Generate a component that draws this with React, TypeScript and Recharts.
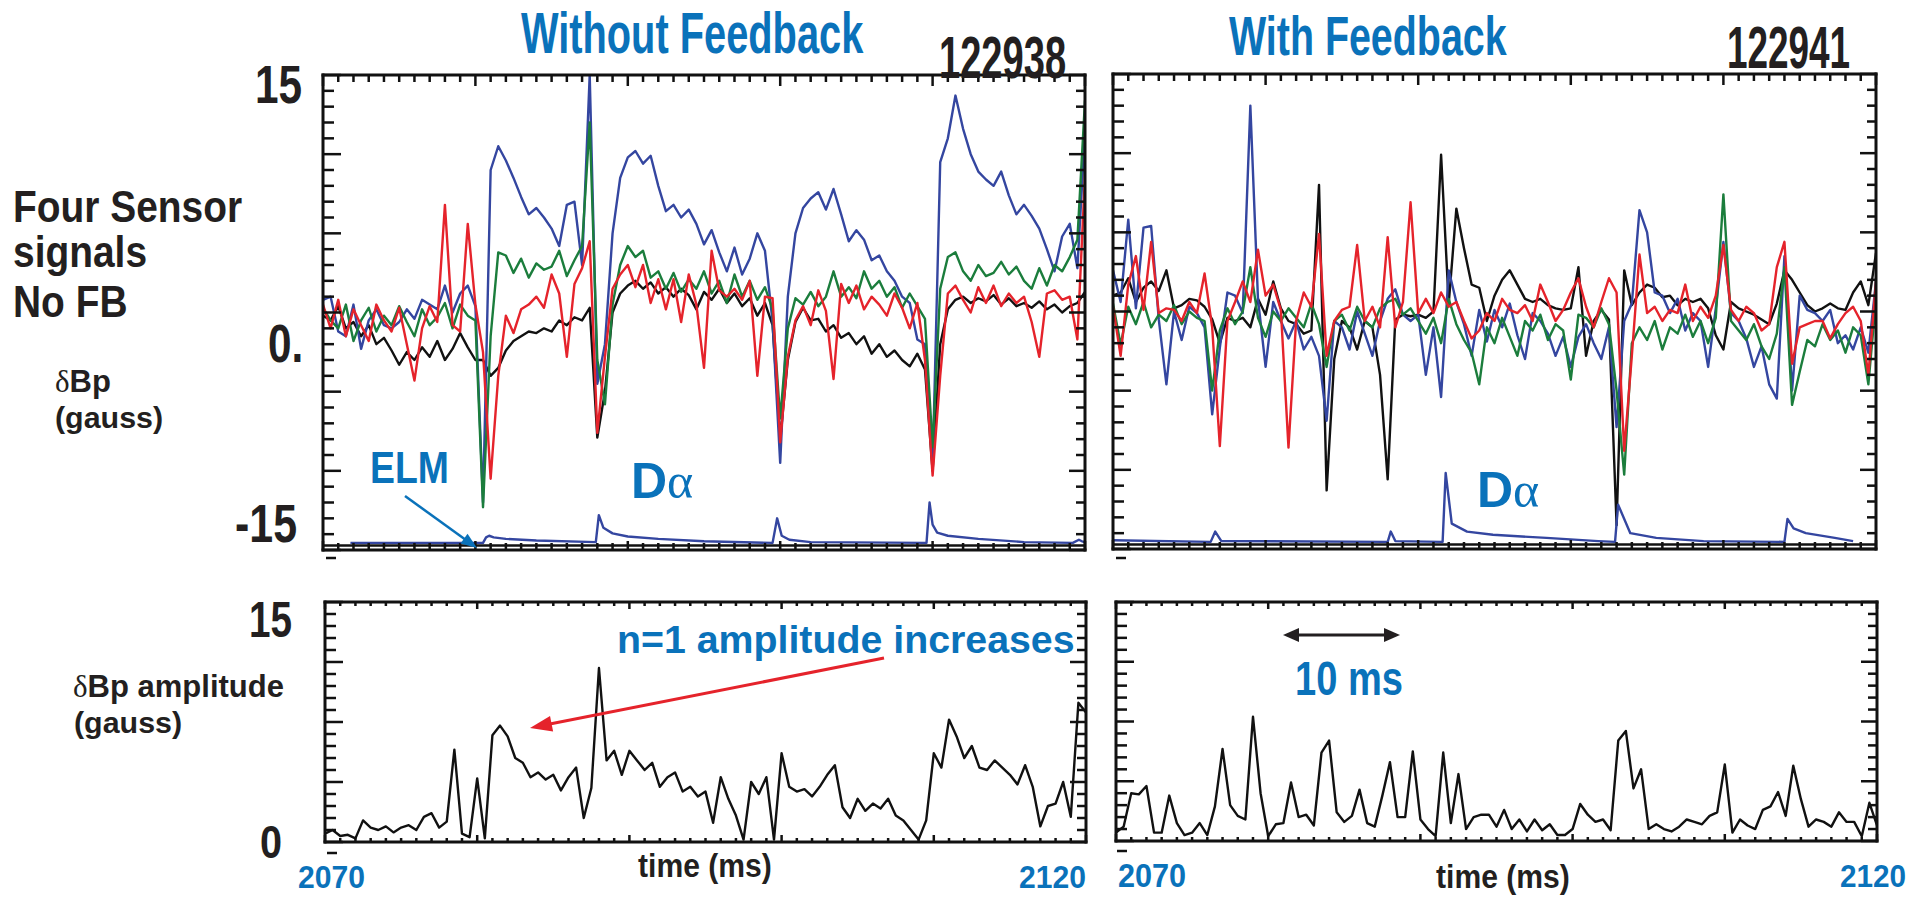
import React from 'react';
import { LineChart, Line, XAxis, YAxis, ReferenceLine } from 'recharts';

// ---------- colours ----------
const TXT_BLUE = '#0a72ba';
const INK = '#231f20';
const C_BLACK = '#111111';
const C_GREEN = '#1b7d3c';
const C_RED = '#e5232b';
const C_BLUE = '#3446a0';
const FONT = '"Liberation Sans", Arial, Helvetica, sans-serif';
const SERIF = '"Liberation Serif", "DejaVu Serif", serif';

// ---------- sampling grid (time, ms) ----------
const T0 = 2070;
const DT = 0.5;

// ---------- tick labels ----------
const topYLabels = ['15', '0.', '-15'];
const botYLabels = ['15', '0'];
const timeLabels = ['2070', '2120'];

// ---------- top-left: four sensor signals, no feedback (gauss) ----------
const blackL = [-0.2,-0.5,0.4,-1.0,-0.6,-1.5,-0.8,-2.0,-1.6,-2.4,
 -3.3,-2.5,-3.0,-2.2,-2.8,-1.8,-3.0,-2.3,-1.3,-2.2,
 -3.0,-3.0,-4.0,-3.5,-2.4,-1.8,-1.5,-1.2,-1.3,-1.0,
 -1.2,-0.5,-0.8,-0.3,-0.5,0.3,-7.9,-5.0,0.0,1.2,
 1.7,2.0,1.5,1.9,1.2,1.6,1.0,1.5,1.1,0.2,
 1.3,0.8,1.5,0.6,1.2,0.4,0.9,-0.2,0.6,-0.8,
 -8.0,-3.0,-0.6,0.3,-0.5,-0.4,-1.2,-0.8,-1.6,-1.3,
 -2.0,-1.5,-2.6,-2.0,-2.8,-2.4,-3.0,-3.4,-2.6,-3.6,
 -10.0,-2.0,0.2,0.8,1.0,0.6,0.9,0.7,1.1,0.5,
 0.9,0.4,0.6,0.3,0.7,0.2,0.5,0.0,0.4,0.6,
 1.3];
const greenL = [0.3,-0.5,-1.0,0.5,-1.8,-0.5,0.3,-1.2,-0.2,-0.8,
 0.4,-0.6,-1.5,0.2,-0.8,-0.3,0.6,-1.0,0.5,-0.2,
 -0.5,-12.3,-1.5,3.8,3.6,2.5,3.4,2.2,3.1,2.7,
 2.9,3.9,2.3,3.3,4.2,12.0,-3.0,-5.8,0.5,3.0,
 4.2,3.5,3.9,2.2,2.6,1.5,2.5,1.3,2.1,1.5,
 2.6,1.2,2.0,0.6,2.4,1.0,2.0,0.8,1.6,0.2,
 -6.7,-1.0,0.9,0.5,1.3,0.4,1.0,2.6,1.0,1.6,
 0.9,2.6,1.5,2.0,1.0,1.6,0.3,1.2,0.4,-0.4,
 -8.5,1.5,3.5,3.8,2.6,2.0,3.0,2.3,2.5,3.2,
 2.4,2.9,2.0,1.5,2.8,1.7,3.0,2.6,3.5,4.6,
 13.4];
const redL = [0.5,-1.0,0.8,-1.5,0.2,-0.8,-1.8,0.5,-0.5,-1.2,
 0.3,-2.0,-4.3,-1.0,0.4,-0.6,6.8,-0.8,-1.2,5.6,
 0.5,-2.5,-10.5,-4.0,-0.2,-1.3,0.2,0.5,1.0,0.3,
 2.4,1.2,-2.8,1.8,2.8,4.5,-7.6,-2.8,1.5,2.4,
 3.0,1.6,3.0,0.6,2.1,0.2,2.1,-0.6,2.4,0.5,
 -3.5,3.9,1.4,1.0,1.5,0.8,2.0,-4.0,1.0,0.9,
 -8.2,-2.8,-0.5,0.4,-0.8,1.4,0.1,-4.2,1.8,0.6,
 1.7,0.2,1.0,0.5,-0.2,1.2,0.3,-1.0,0.6,-3.0,
 -10.3,-4.0,1.2,1.7,0.8,0.0,1.6,0.6,1.7,0.4,
 1.2,0.6,1.0,-0.6,-2.8,1.2,1.4,0.8,1.0,-1.7,
 8.7];
const blueL = [0.8,1.0,-1.2,-1.5,0.5,-2.3,-0.5,0.2,-0.8,-1.0,
 -0.6,0.2,-0.4,0.8,0.5,0.2,1.7,0.0,1.2,1.7,
 0.4,-12.0,9.0,10.5,9.6,8.5,7.3,6.2,6.6,6.0,
 5.3,4.2,6.8,7.0,3.0,15.0,-4.5,-2.0,5.0,8.5,
 9.8,10.2,9.4,9.9,8.0,6.4,6.8,6.0,6.5,5.6,
 4.3,5.2,3.8,2.6,4.1,2.4,3.4,5.0,3.9,-0.6,
 -9.5,1.0,5.0,6.6,7.2,7.6,6.5,7.8,6.2,4.5,
 5.2,4.6,3.3,3.6,2.6,2.0,1.0,0.6,-1.7,-2.0,
 -9.8,9.5,11.0,13.7,11.6,10.0,8.9,8.4,8.0,8.9,
 7.4,6.2,6.8,6.1,5.3,4.0,2.6,4.8,5.6,2.8,
 11.4];

// D-alpha trace (left), own time points
const daTimeL = [2071.8,2080.5,2080.7,2080.9,2081.2,2082,2084,2087.9,2088.1,2088.4,2089,2090,2092,2095,2099.5,2099.8,2100.1,2100.6,2102,2109.6,2109.8,2110.0,2110.3,2111,2113,2116,2119.2,2119.6,2119.8,2120];
const daValL = [-14.55,-14.55,-14.2,-14.1,-14.2,-14.3,-14.4,-14.5,-12.8,-13.6,-13.95,-14.15,-14.3,-14.45,-14.55,-13.0,-14.1,-14.35,-14.5,-14.55,-12.0,-13.4,-13.9,-14.1,-14.3,-14.5,-14.55,-14.35,-14.45,-14.5];

// ---------- top-right: with feedback ----------
const blackR = [1.0,1.2,2.1,0.6,1.5,1.9,1.3,2.6,0.2,0.4,
 0.8,0.7,0.3,-0.5,-2.0,-0.4,-0.6,-0.4,-1.0,0.8,
 -0.2,1.9,0.2,-0.6,-0.8,-1.4,-1.2,8.0,-11.3,-3.0,
 -0.6,-1.0,-2.4,-0.6,-1.0,-4.0,-10.6,-0.5,-0.2,-0.3,
 -0.2,-0.4,0.0,9.9,0.5,6.5,4.0,1.7,1.5,-0.6,
 1.0,2.0,2.6,1.7,0.8,0.6,0.8,0.4,0.2,0.1,
 0.2,2.8,-2.8,-0.6,0.1,-0.5,-13.5,2.6,0.4,1.2,
 1.7,1.5,0.9,1.0,0.4,0.8,0.6,0.8,0.2,-1.5,
 -2.4,0.6,0.2,0.0,-0.2,-0.5,-0.8,0.5,2.6,2.0,
 1.2,0.4,0.0,0.2,0.5,0.2,0.1,1.2,1.9,0.4,
 3.7];
const greenR = [0.5,-2.1,0.3,-0.8,0.6,-1.0,-0.2,-0.6,0.4,-0.8,
 0.0,-0.4,-0.6,-5.0,-1.2,0.2,-0.8,0.0,2.8,-0.4,
 -1.6,0.0,-0.6,0.2,-0.4,-1.0,0.5,-0.8,-3.5,-0.6,
 -0.2,-1.2,0.3,-0.6,-1.0,0.2,0.6,0.8,-0.2,0.2,
 -0.6,-1.4,-0.4,-2.0,0.8,-0.8,-1.8,-2.6,-4.6,-1.0,
 -2.0,-0.4,-1.6,-2.8,-0.6,-1.2,-0.2,-1.8,-0.8,-1.2,
 -4.3,-0.2,-0.4,-1.0,0.2,-0.8,-5.0,-10.3,-2.0,-1.0,
 -1.8,-0.6,-2.4,-1.0,-1.4,-0.2,-1.6,-0.6,-2.0,-0.4,
 7.4,-0.6,-1.2,-1.8,-0.8,-2.2,-3.0,-1.4,2.8,-5.9,
 -3.8,-1.8,-2.2,-0.8,-1.8,-1.2,-2.6,-1.0,-1.5,-4.6,
 0.8];
const redR = [0.3,-2.8,1.7,3.5,0.1,4.4,-0.1,0.2,0.1,-0.6,
 0.6,-0.1,2.4,-1.0,-8.5,-0.6,0.6,1.9,0.6,3.9,
 1.0,1.7,0.1,-8.6,-0.6,1.2,0.3,4.9,-2.8,-0.6,
 0.1,0.3,4.2,-0.6,0.3,-1.0,4.7,-1.0,0.6,6.9,
 -0.1,0.8,-0.1,1.2,0.3,0.6,-0.6,-1.7,-1.2,-0.1,
 -0.6,0.8,0.1,-0.1,0.4,-0.6,1.7,0.6,-0.6,0.1,
 1.2,2.1,0.3,-1.0,0.6,2.1,1.2,-8.8,-2.8,3.6,
 -0.1,0.3,-0.6,0.1,-0.1,1.7,-0.6,0.3,-0.4,1.0,
 4.2,0.1,-0.6,0.3,-0.1,-1.2,-0.8,2.8,4.4,-3.3,
 -1.0,-0.8,-0.6,-0.6,-1.7,-0.8,-0.1,0.3,-0.6,-4.0,
 1.9];
const blueR = [2.6,0.6,5.8,0.2,5.3,5.4,-0.5,-4.6,0.0,-1.8,
 0.3,-0.1,-1.0,-6.5,-2.3,1.2,1.0,-0.1,13.0,0.8,
 -3.5,0.6,-0.6,-1.7,-0.6,-2.4,-1.6,-2.8,-6.9,-0.6,
 -1.0,-2.4,0.0,-1.4,-2.8,-0.6,0.8,1.4,-0.2,-0.6,
 -0.2,-4.0,-1.0,-5.4,2.6,0.6,-0.8,-2.8,0.1,-1.9,
 0.1,-1.0,0.5,-1.5,-3.0,-0.1,-0.6,-1.4,-2.8,-1.6,
 -3.5,-1.6,-0.8,-2.0,-3.0,-1.0,-7.3,-0.6,0.5,6.4,
 5.0,1.2,1.0,-0.1,0.8,-1.2,-0.1,-0.6,-3.5,0.2,
 4.4,-0.1,-0.6,-1.7,-3.5,-2.2,-4.6,-5.5,3.5,-5.0,
 1.0,0.1,-0.1,-0.6,0.1,-2.0,-1.5,-2.4,-1.0,-2.6,
 1.9];
const daTimeR = [2070,2076.4,2076.7,2077.1,2088.0,2088.2,2088.5,2091.6,2091.8,2092.2,2093.2,2094.9,2098.4,2101.8,2102.9,2103.1,2103.9,2105.6,2108.7,2114.0,2114.2,2114.6,2115.4,2117.3,2118.5];
const daValR = [-14.45,-14.55,-13.9,-14.5,-14.55,-13.9,-14.5,-14.55,-10.2,-13.4,-13.9,-14.1,-14.3,-14.5,-14.55,-12.2,-14.0,-14.3,-14.5,-14.55,-13.1,-13.7,-14.0,-14.3,-14.5];

// ---------- bottom: n=1 dBp amplitude (gauss) ----------
const ampL = [0.7,1.0,0.5,0.6,0.3,1.8,1.2,1.0,1.3,0.8,
 1.2,1.4,1.0,2.1,2.4,1.2,1.7,7.7,0.7,0.4,
 5.3,0.3,8.9,9.7,8.8,7.0,6.6,5.4,5.8,5.2,
 5.6,4.3,5.4,6.2,2.0,4.5,14.5,6.8,7.6,5.6,
 7.6,6.8,6.0,6.6,4.6,5.4,5.8,4.2,4.6,3.8,
 4.2,1.6,5.4,3.6,2.2,0.2,5.0,4.0,5.4,0.2,
 7.4,4.6,4.2,4.4,3.8,4.6,5.6,6.4,2.9,2.0,
 3.6,2.6,3.2,2.8,3.6,2.2,1.8,1.0,0.2,1.8,
 7.4,6.2,10.2,8.8,7.0,8.0,6.2,6.0,6.8,6.2,
 5.6,4.8,6.4,4.6,1.3,3.0,3.2,5.0,2.1,11.6,
 10.8];
const ampR = [0.7,1.2,4.0,3.9,4.6,0.7,0.7,3.8,1.5,0.5,
 0.7,1.5,0.5,2.9,7.7,3.0,2.1,1.8,10.4,4.0,
 0.4,1.4,1.5,4.9,2.0,2.2,1.3,7.4,8.4,2.4,
 1.6,2.1,4.3,1.5,1.2,3.8,6.6,2.0,2.0,7.5,
 1.8,1.0,0.4,7.4,1.5,5.6,1.0,2.0,2.2,2.2,
 1.2,2.6,1.0,1.8,0.8,1.8,0.9,1.4,0.5,0.5,
 1.0,3.1,2.2,1.6,1.8,0.9,8.4,9.2,4.4,6.0,
 1.0,1.4,1.0,0.8,1.2,1.8,1.6,1.4,2.1,2.4,
 6.4,0.7,1.8,1.3,1.0,2.6,2.9,4.1,2.1,6.3,
 3.5,1.2,1.8,1.6,1.2,2.4,1.6,1.6,0.4,3.2,
 1.3];

// ---------- build rows ----------
const rowsTopL = blackL.map((_, i) => ({ t: T0 + i * DT, black: blackL[i], green: greenL[i], red: redL[i], blue: blueL[i] }));
const rowsTopR = blackR.map((_, i) => ({ t: T0 + i * DT, black: blackR[i], green: greenR[i], red: redR[i], blue: blueR[i] }));
const daRowsL = daTimeL.map((t, i) => ({ t, da: daValL[i] }));
const daRowsR = daTimeR.map((t, i) => ({ t, da: daValR[i] }));
const rowsBotL = ampL.map((v, i) => ({ t: T0 + i * DT, amp: v }));
const rowsBotR = ampR.map((v, i) => ({ t: T0 + i * DT, amp: v }));

const range = (a: number, b: number) => { const r: number[] = []; for (let v = a; v <= b; v++) r.push(v); return r; };
const xTicks = range(2070, 2120);
const yTicksTop = range(-15, 15);
const yTicksBot = range(0, 20);

// ---------- tick renderer (inward ticks) ----------
const mkTick = (side: string, major: number, minorLen: number, majorLen: number) => (props: any) => {
  const { x, y, payload } = props;
  const v = payload.value;
  const isMajor = Math.abs(v % major) < 1e-6;
  const len = isMajor ? majorLen : minorLen;
  let x2 = x, y2 = y;
  if (side === 'bottom') y2 = y - len;
  if (side === 'top') y2 = y + len;
  if (side === 'left') x2 = x + len;
  if (side === 'right') x2 = x - len;
  return <line x1={x} y1={y} x2={x2} y2={y2} stroke={C_BLACK} strokeWidth={2.5} />;
};

const frameLine = { stroke: C_BLACK, strokeWidth: 3, strokeLinecap: 'square' as const };

type S = { key: string; color: string; data?: any[] };

function Panel(p: {
  x: number; y: number; w: number; h: number; rows: any[]; series: S[];
  yDomain: [number, number]; yTicks: number[]; len: { t: [number, number]; b: [number, number]; l: [number, number]; r: [number, number] };
  inner?: number;
}) {
  const A = 1, M = 10;
  return (
    <div style={{ position: 'absolute', left: p.x - M - A, top: p.y - M - A }}>
      <LineChart width={p.w + 2 * (M + A)} height={p.h + 2 * (M + A)} data={p.rows} margin={{ top: M, right: M, bottom: M, left: M }}>
        <XAxis xAxisId="x" dataKey="t" type="number" domain={[2070, 2120]} allowDataOverflow ticks={xTicks} interval={0}
          height={A} tickSize={0} tickMargin={0} tickLine={false} axisLine={frameLine} tick={mkTick('bottom', 10, p.len.b[0], p.len.b[1])} />
        <XAxis xAxisId="xt" orientation="top" dataKey="t" type="number" domain={[2070, 2120]} allowDataOverflow ticks={xTicks} interval={0}
          height={A} tickSize={0} tickMargin={0} tickLine={false} axisLine={frameLine} tick={mkTick('top', 10, p.len.t[0], p.len.t[1])} />
        <YAxis yAxisId="y" type="number" domain={p.yDomain} allowDataOverflow ticks={p.yTicks} interval={0}
          width={A} tickSize={0} tickMargin={0} tickLine={false} axisLine={frameLine} tick={mkTick('left', 5, p.len.l[0], p.len.l[1])} />
        <YAxis yAxisId="yr" orientation="right" type="number" domain={p.yDomain} allowDataOverflow ticks={p.yTicks} interval={0}
          width={A} tickSize={0} tickMargin={0} tickLine={false} axisLine={frameLine} tick={mkTick('right', 5, p.len.r[0], p.len.r[1])} />
        {p.inner !== undefined && (
          <ReferenceLine xAxisId="x" yAxisId="y" y={p.inner} stroke={C_BLACK} strokeWidth={2.5} />
        )}
        {p.series.map((s) => (
          <Line key={s.key + (s.data ? 'd' : '')} xAxisId="x" yAxisId="y" data={s.data} dataKey={s.key} type="linear"
            stroke={s.color} strokeWidth={2.4} dot={false} isAnimationActive={false} strokeLinejoin="round" />
        ))}
      </LineChart>
    </div>
  );
}

// ---------- text / annotation helpers ----------
// Text drawn at natural width (fs) and stretched vertically by sy, like a condensed face.
function T(p: { x: number; y: number; fs: number; sy?: number; fill?: string; children: any; weight?: string }) {
  return (
    <text transform={`translate(${p.x},${p.y}) scale(1,${p.sy || 1})`} x={0} y={0} fontFamily={FONT}
      fontWeight={p.weight || 'bold'} fontSize={p.fs} fill={p.fill || INK}>{p.children}</text>
  );
}

function Arrow(p: { x1: number; y1: number; x2: number; y2: number; color: string; sw: number; hl: number; hw: number; both?: boolean }) {
  const dx = p.x2 - p.x1, dy = p.y2 - p.y1;
  const L = Math.hypot(dx, dy);
  const ux = dx / L, uy = dy / L, nx = -uy, ny = ux;
  const head = (tx: number, ty: number, sx: number, sy: number) => {
    const bx = tx - sx * p.hl, by = ty - sy * p.hl;
    return `${tx},${ty} ${bx + nx * p.hw},${by + ny * p.hw} ${bx - nx * p.hw},${by - ny * p.hw}`;
  };
  const sx = p.both ? p.x1 + ux * p.hl * 0.8 : p.x1;
  const sy = p.both ? p.y1 + uy * p.hl * 0.8 : p.y1;
  return (
    <g>
      <line x1={sx} y1={sy} x2={p.x2 - ux * p.hl * 0.8} y2={p.y2 - uy * p.hl * 0.8} stroke={p.color} strokeWidth={p.sw} />
      <polygon points={head(p.x2, p.y2, ux, uy)} fill={p.color} />
      {p.both && <polygon points={head(p.x1, p.y1, -ux, -uy)} fill={p.color} />}
    </g>
  );
}

const topLen = { t: [7, 11] as [number, number], b: [7, 9] as [number, number], l: [11, 18] as [number, number], r: [9, 16] as [number, number] };
const botLen = { t: [4, 7] as [number, number], b: [4, 7] as [number, number], l: [11, 18] as [number, number], r: [9, 16] as [number, number] };

export default function App() {
  const topSeriesL: S[] = [
    { key: 'black', color: C_BLACK }, { key: 'blue', color: C_BLUE }, { key: 'green', color: C_GREEN }, { key: 'red', color: C_RED },
    { key: 'da', color: C_BLUE, data: daRowsL },
  ];
  const topSeriesR: S[] = [
    { key: 'black', color: C_BLACK }, { key: 'blue', color: C_BLUE }, { key: 'green', color: C_GREEN }, { key: 'red', color: C_RED },
    { key: 'da', color: C_BLUE, data: daRowsR },
  ];
  return (
    <div style={{ position: 'absolute', left: 0, top: 0, width: 1923, height: 899, background: '#fff', overflow: 'hidden' }}>
      <Panel x={323} y={75} w={762} h={475} rows={rowsTopL} series={topSeriesL} yDomain={[-15, 15]} yTicks={yTicksTop} len={topLen} inner={-14.72} />
      <Panel x={1113} y={74} w={763} h={475} rows={rowsTopR} series={topSeriesR} yDomain={[-15, 15]} yTicks={yTicksTop} len={topLen} inner={-14.72} />
      <Panel x={325} y={602} w={761} h={240} rows={rowsBotL} series={[{ key: 'amp', color: C_BLACK }]} yDomain={[0, 20]} yTicks={yTicksBot} len={botLen} />
      <Panel x={1116} y={602} w={761} h={239} rows={rowsBotR} series={[{ key: 'amp', color: C_BLACK }]} yDomain={[0, 20]} yTicks={yTicksBot} len={botLen} />

      <svg width={1923} height={899} style={{ position: 'absolute', left: 0, top: 0, pointerEvents: 'none' }}>
        {/* titles */}
        <T x={521} y={53} fs={39.8} sy={1.43} fill={TXT_BLUE}>Without Feedback</T>
        <T x={939} y={78} fs={38.1} sy={1.57}>122938</T>
        <T x={1229} y={55} fs={39.4} sy={1.42} fill={TXT_BLUE}>With Feedback</T>
        <T x={1727} y={68} fs={36.9} sy={1.62}>122941</T>

        {/* left annotations */}
        <T x={13} y={222} fs={38.9} sy={1.13}>Four Sensor</T>
        <T x={13} y={267} fs={38.9} sy={1.13}>signals</T>
        <T x={13} y={317} fs={38.9} sy={1.13}>No FB</T>
        <text x={55} y={392} fontSize={31} fill={INK}>
          <tspan fontFamily={SERIF}>δ</tspan><tspan fontFamily={FONT} fontWeight="bold">Bp</tspan>
        </text>
        <T x={55} y={428} fs={30.4}>(gauss)</T>

        {/* top y labels */}
        <T x={255} y={103} fs={42.3} sy={1.25}>{topYLabels[0]}</T>
        <T x={268} y={362} fs={42.3} sy={1.25}>{topYLabels[1]}</T>
        <T x={235} y={542} fs={42.9} sy={1.25}>{topYLabels[2]}</T>

        {/* small dashes below frames */}
        <line x1={326} y1={558} x2={336} y2={558} stroke={C_BLACK} strokeWidth={2.5} />
        <line x1={1116} y1={558} x2={1126} y2={558} stroke={C_BLACK} strokeWidth={2.5} />
        <line x1={327} y1={853} x2={337} y2={853} stroke={C_BLACK} strokeWidth={2.5} />
        <line x1={1117} y1={851} x2={1127} y2={851} stroke={C_BLACK} strokeWidth={2.5} />

        {/* ELM + D-alpha */}
        <T x={370} y={483} fs={37.4} sy={1.2} fill={TXT_BLUE}>ELM</T>
        <Arrow x1={405} y1={496} x2={477} y2={548} color={TXT_BLUE} sw={2.5} hl={16} hw={6} />
        <text x={631} y={498} fontSize={50} fill={TXT_BLUE}>
          <tspan fontFamily={FONT} fontWeight="bold">D</tspan><tspan fontFamily={SERIF}>α</tspan>
        </text>
        <text x={1477} y={507} fontSize={50} fill={TXT_BLUE}>
          <tspan fontFamily={FONT} fontWeight="bold">D</tspan><tspan fontFamily={SERIF}>α</tspan>
        </text>

        {/* bottom left labels */}
        <T x={249} y={637} fs={38.7} sy={1.29}>{botYLabels[0]}</T>
        <T x={260} y={858} fs={39.6} sy={1.16}>{botYLabels[1]}</T>
        <text x={73} y={697} fontSize={31} fill={INK}>
          <tspan fontFamily={SERIF}>δ</tspan><tspan fontFamily={FONT} fontWeight="bold">Bp amplitude</tspan>
        </text>
        <T x={74} y={733} fs={30.4}>(gauss)</T>
        <T x={617} y={653} fs={39.3}  fill={TXT_BLUE}>n=1 amplitude increases</T>
        <Arrow x1={884} y1={658} x2={530} y2={728} color={C_RED} sw={3} hl={22} hw={8} />

        {/* 10 ms */}
        <Arrow x1={1283} y1={635} x2={1400} y2={635} color={INK} sw={3} hl={16} hw={7} both />
        <T x={1295} y={695} fs={38.1} sy={1.26} fill={TXT_BLUE}>10 ms</T>

        {/* time axes */}
        <T x={298} y={888} fs={30.1} sy={1.06} fill={TXT_BLUE}>{timeLabels[0]}</T>
        <T x={1019} y={888} fs={30.1} sy={1.06} fill={TXT_BLUE}>{timeLabels[1]}</T>
        <T x={638} y={877} fs={30.1} sy={1.13}>time (ms)</T>
        <T x={1118} y={887} fs={30.6} sy={1.06} fill={TXT_BLUE}>{timeLabels[0]}</T>
        <T x={1840} y={887} fs={29.7} sy={1.06} fill={TXT_BLUE}>{timeLabels[1]}</T>
        <T x={1436} y={888} fs={30.1} sy={1.13}>time (ms)</T>
      </svg>
    </div>
  );
}
